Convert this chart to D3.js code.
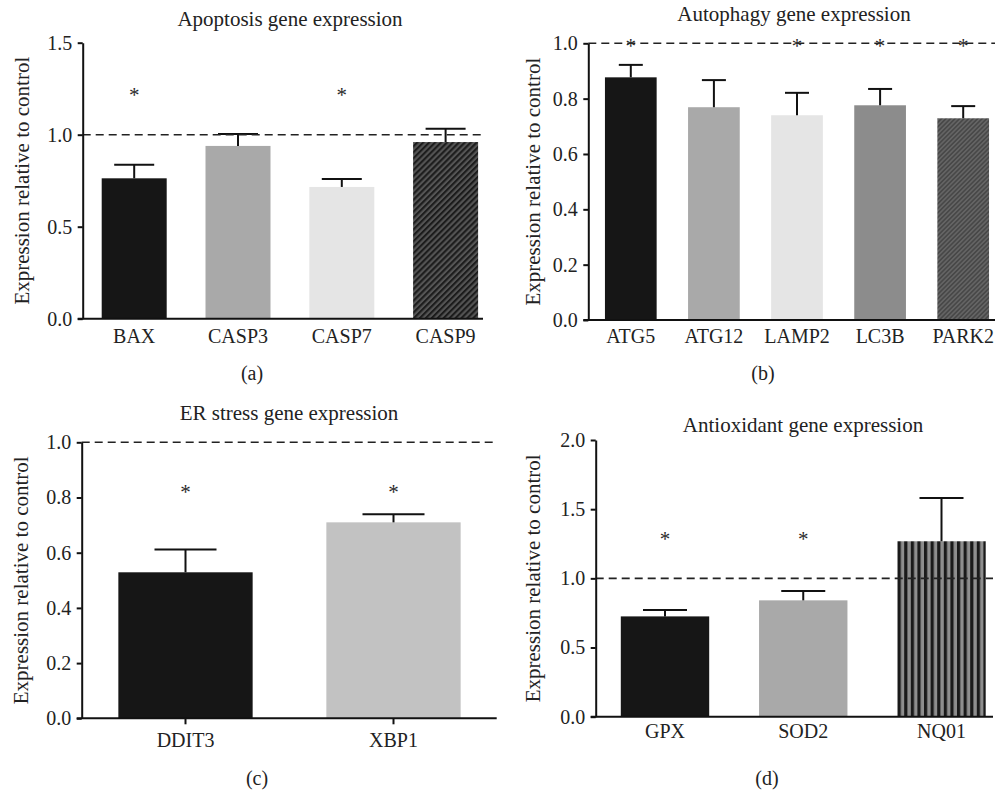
<!DOCTYPE html>
<html>
<head>
<meta charset="utf-8">
<script src="https://cdn.jsdelivr.net/npm/d3@7"></script>
<style>
  body { margin: 0; background: #fff; }
  svg { display: block; }
  text { font-family: "Liberation Serif", "DejaVu Serif", serif; fill: #222; }
</style>
</head>
<body>
<svg id="chart" width="998" height="793"></svg>
<script>
// values
const apoptosisGenes = ["BAX", "CASP3", "CASP7", "CASP9"];
const apoptosisMean = [0.763, 0.939, 0.716, 0.960];
const apoptosisErr = [0.074, 0.065, 0.043, 0.073];
const apoptosisSig = [true, false, true, false];
const apoptosisTicks = [0, 0.5, 1.0, 1.5];

const autophagyGenes = ["ATG5", "ATG12", "LAMP2", "LC3B", "PARK2"];
const autophagyMean = [0.877, 0.769, 0.740, 0.776, 0.729];
const autophagyErr = [0.045, 0.098, 0.081, 0.059, 0.044];
const autophagySig = [true, false, true, true, true];
const autophagyTicks = [0, 0.2, 0.4, 0.6, 0.8, 1.0];

const erGenes = ["DDIT3", "XBP1"];
const erMean = [0.529, 0.710];
const erErr = [0.083, 0.029];
const erSig = [true, true];
const erTicks = [0, 0.2, 0.4, 0.6, 0.8, 1.0];

const antioxGenes = ["GPX", "SOD2", "NQ01"];
const antioxMean = [0.725, 0.841, 1.268];
const antioxErr = [0.046, 0.068, 0.313];
const antioxSig = [true, true, false];
const antioxTicks = [0, 0.5, 1.0, 1.5, 2.0];

const svg = d3.select('#chart');
const defs = svg.append('defs');

function stripes(id, angle, size, dark, light, darkW) {
    const p = defs.append('pattern')
        .attr('id', id)
        .attr('patternUnits', 'userSpaceOnUse')
        .attr('width', size)
        .attr('height', size)
        .attr('patternTransform', `rotate(${angle})`);
    p.append('rect').attr('width', size).attr('height', size).attr('fill', light);
    p.append('rect').attr('width', darkW).attr('height', size).attr('fill', dark);
}
stripes('hatchA', 45, 4.2, '#1c1c1c', '#555555', 2.1);
stripes('hatchB', 45, 3.2, '#484848', '#646464', 1.6);
stripes('vstripe', 0, 6.6, '#1a1a1a', '#8e8e8e', 3.2);

const panels = [
    { title: 'Apoptosis gene expression', tag: '(a)', genes: apoptosisGenes, mean: apoptosisMean, err: apoptosisErr,
      sig: apoptosisSig, starAt: 1.23, ticks: apoptosisTicks, yMax: 1.5,
      left: 82.7, right: 483, top: 42.7, bottom: 318.7, c0: 134.2, step: 103.8, barW: 65, cap: 40,
      xTick: 0, xPad: 10.4, titleX: 290, titleY: 26, tagX: 252, tagY: 380, labelX: 29,
      fills: ['#161616', '#a9a9a9', '#e5e5e5', 'url(#hatchA)'] },
    { title: 'Autophagy gene expression', tag: '(b)', genes: autophagyGenes, mean: autophagyMean, err: autophagyErr,
      sig: autophagySig, starAt: 1.0, ticks: autophagyTicks, yMax: 1.0,
      left: 588.3, right: 995, top: 43.3, bottom: 320, c0: 630.8, step: 83.1, barW: 51.7, cap: 24,
      xTick: 0, xPad: 9.1, titleX: 794, titleY: 21, tagX: 763, tagY: 380, labelX: 540,
      fills: ['#161616', '#a9a9a9', '#e5e5e5', '#8c8c8c', 'url(#hatchB)'] },
    { title: 'ER stress gene expression', tag: '(c)', genes: erGenes, mean: erMean, err: erErr,
      sig: erSig, starAt: 0.83, ticks: erTicks, yMax: 1.0,
      left: 81.7, right: 496.7, top: 442.3, bottom: 718.3, c0: 185.5, step: 208, barW: 134.3, cap: 62,
      xTick: 6, xPad: 8.2, titleX: 289, titleY: 420, tagX: 257, tagY: 785, labelX: 28,
      fills: ['#161616', '#c2c2c2'] },
    { title: 'Antioxidant gene expression', tag: '(d)', genes: antioxGenes, mean: antioxMean, err: antioxErr,
      sig: antioxSig, starAt: 1.305, ticks: antioxTicks, yMax: 2.0,
      left: 595.7, right: 993, top: 440, bottom: 716.7, c0: 665, step: 138.25, barW: 88.4, cap: 44,
      xTick: 0, xPad: 7.4, titleX: 803, titleY: 432, tagX: 767, tagY: 785, labelX: 540,
      fills: ['#161616', '#a9a9a9', 'url(#vstripe)'] }
];

panels.forEach(drawPanel);

function drawPanel(p) {
    const n = p.genes.length;
    const pi = 1 - p.barW / p.step;
    const x = d3.scaleBand()
        .domain(p.genes)
        .range([p.c0 - p.step / 2, p.c0 - p.step / 2 + n * p.step])
        .paddingInner(pi)
        .paddingOuter(pi / 2);
    const y = d3.scaleLinear().domain([0, p.yMax]).range([p.bottom, p.top]);

    const g = svg.append('g');
    const rows = p.genes.map((gene, i) => ({ gene, mean: p.mean[i], err: p.err[i], sig: p.sig[i], fill: p.fills[i] }));

    g.selectAll('.bar')
        .data(rows)
        .enter().append('rect')
        .attr('class', 'bar')
        .attr('x', d => x(d.gene))
        .attr('width', x.bandwidth())
        .attr('y', d => y(d.mean))
        .attr('height', d => y(0) - y(d.mean))
        .attr('fill', d => d.fill);

    // upper error bars
    const eb = g.selectAll('.err').data(rows).enter().append('g').attr('class', 'err')
        .attr('stroke', '#111').attr('stroke-width', 2);
    eb.append('line')
        .attr('x1', d => x(d.gene) + x.bandwidth() / 2)
        .attr('x2', d => x(d.gene) + x.bandwidth() / 2)
        .attr('y1', d => y(d.mean))
        .attr('y2', d => y(d.mean + d.err));
    eb.append('line')
        .attr('x1', d => x(d.gene) + x.bandwidth() / 2 - p.cap / 2)
        .attr('x2', d => x(d.gene) + x.bandwidth() / 2 + p.cap / 2)
        .attr('y1', d => y(d.mean + d.err))
        .attr('y2', d => y(d.mean + d.err));

    // control reference line
    g.append('line')
        .attr('x1', p.left).attr('x2', p.right)
        .attr('y1', y(1)).attr('y2', y(1))
        .attr('stroke', '#222')
        .attr('stroke-width', 1.6)
        .attr('stroke-dasharray', '8,5');

    g.selectAll('.star')
        .data(rows.filter(d => d.sig))
        .enter().append('text')
        .attr('class', 'star')
        .attr('x', d => x(d.gene) + x.bandwidth() / 2)
        .attr('y', y(p.starAt) + 10)
        .attr('text-anchor', 'middle')
        .style('font-size', '21px')
        .style('fill', '#2a2a2a')
        .text('*');

    const yAxis = g.append('g')
        .attr('transform', `translate(${p.left},0)`)
        .call(d3.axisLeft(y).tickValues(p.ticks).tickSize(5).tickSizeOuter(0).tickPadding(5.5).tickFormat(d3.format('.1f')));
    yAxis.selectAll('path, line').attr('stroke', '#111').attr('stroke-width', 2);
    yAxis.selectAll('text').style('font-size', '20px').style('font-family', '"Liberation Serif", serif').attr('fill', '#222');

    const xAxis = g.append('g')
        .attr('transform', `translate(0,${p.bottom})`)
        .call(d3.axisBottom(x).tickSize(p.xTick).tickSizeOuter(0).tickPadding(p.xPad));
    xAxis.select('.domain').remove();
    xAxis.selectAll('line').attr('stroke', '#111').attr('stroke-width', 2);
    xAxis.selectAll('text').style('font-size', '20px').style('font-family', '"Liberation Serif", serif').attr('fill', '#222');
    g.append('line')
        .attr('x1', p.left - 5).attr('x2', p.right)
        .attr('y1', p.bottom).attr('y2', p.bottom)
        .attr('stroke', '#111').attr('stroke-width', 2);

    g.append('text')
        .attr('x', p.titleX).attr('y', p.titleY)
        .attr('text-anchor', 'middle')
        .style('font-size', '21px')
        .text(p.title);

    g.append('text')
        .attr('transform', `translate(${p.labelX},${(p.top + p.bottom) / 2}) rotate(-90)`)
        .attr('text-anchor', 'middle')
        .style('font-size', '21px')
        .text('Expression relative to control');

    g.append('text')
        .attr('x', p.tagX).attr('y', p.tagY)
        .attr('text-anchor', 'middle')
        .style('font-size', '20px')
        .text(p.tag);
}
</script>
</body>
</html>
